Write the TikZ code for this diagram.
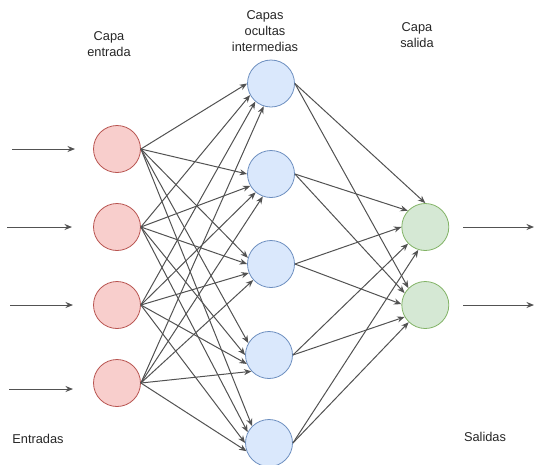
\documentclass[tikz,border=0pt]{standalone}
\usepackage{fontspec}
\setmainfont{Liberation Sans}
\usetikzlibrary{arrows.meta}
\definecolor{inFill}{HTML}{F8CECC}
\definecolor{inLine}{HTML}{B85450}
\definecolor{hidFill}{HTML}{DAE8FC}
\definecolor{hidLine}{HTML}{6C8EBF}
\definecolor{outFill}{HTML}{D5E8D4}
\definecolor{outLine}{HTML}{82B366}
\tikzset{
  neuron/.style={circle, minimum size=47pt, inner sep=0pt, line width=0.8pt},
  inneuron/.style={neuron, draw=inLine, fill=inFill},
  hidneuron/.style={neuron, draw=hidLine, fill=hidFill},
  outneuron/.style={neuron, draw=outLine, fill=outFill},
  link/.style={draw=black!68, line width=1pt, -{Stealth[length=7.5pt,width=6pt]}},
  label/.style={font=\fontsize{12.8}{15.6}\selectfont, align=center, text=black!85}
}
\begin{document}
\begin{tikzpicture}[x=1pt, y=-1pt]
\useasboundingbox (0,0) rectangle (534,464);

% layers
\node[inneuron] (i1) at (117,149) {};
\node[inneuron] (i2) at (117,227) {};
\node[inneuron] (i3) at (117,305) {};
\node[inneuron] (i4) at (117,383) {};

\node[hidneuron] (h1) at (271,83.5) {};
\node[hidneuron] (h2) at (271,174) {};
\node[hidneuron] (h3) at (271,264) {};
\node[hidneuron] (h4) at (269,355) {};
\node[hidneuron] (h5) at (269,443) {};

\node[outneuron] (o1) at (425.3,227) {};
\node[outneuron] (o2) at (425.3,305) {};

% layer captions
\node[label] (capin)  at (109,44)  {Capa\\entrada};
\node[label] (caphid) at (265,31)  {Capas\\ocultas\\intermedias};
\node[label] (capout) at (417,35)  {Capa\\salida};
\node[label] (ent)    at (38,439)  {Entradas};
\node[label] (sal)    at (485,437) {Salidas};

% external inputs and outputs
\coordinate (s1) at (12,149);
\coordinate (s2) at (7,227);
\coordinate (s3) at (10,305);
\coordinate (s4) at (9,389);
\coordinate (e1) at (75,149);
\coordinate (e2) at (72,227);
\coordinate (e3) at (73,305);
\coordinate (e4) at (73,389);
\foreach \k in {1,...,4} \draw[link] (s\k) -- (e\k);

\coordinate (t1) at (463,227);
\coordinate (t2) at (463,305);
\coordinate (u1) at (534,227);
\coordinate (u2) at (534,305);
\foreach \k in {1,2} \draw[link] (t\k) -- (u\k);

% input -> hidden (entry angle on each hidden neuron)
\foreach \a/\b/\c/\d [count=\k] in {180/209/229/252, 180/210/230/250, 165/180/202/222, 150/180/202/223, 135/153/180/200}{
  \draw[link] (i1.east) -- (h\k.\a);
  \draw[link] (i2.east) -- (h\k.\b);
  \draw[link] (i3.east) -- (h\k.\c);
  \draw[link] (i4.east) -- (h\k.\d);
}

% hidden -> output
\foreach \a/\b/\c/\d/\e [count=\k] in {90/137/180/224/253, 135/150/178/210/226}{
  \draw[link] (h1.east) -- (o\k.\a);
  \draw[link] (h2.east) -- (o\k.\b);
  \draw[link] (h3.east) -- (o\k.\c);
  \draw[link] (h4.east) -- (o\k.\d);
  \draw[link] (h5.east) -- (o\k.\e);
}
\end{tikzpicture}
\end{document}
